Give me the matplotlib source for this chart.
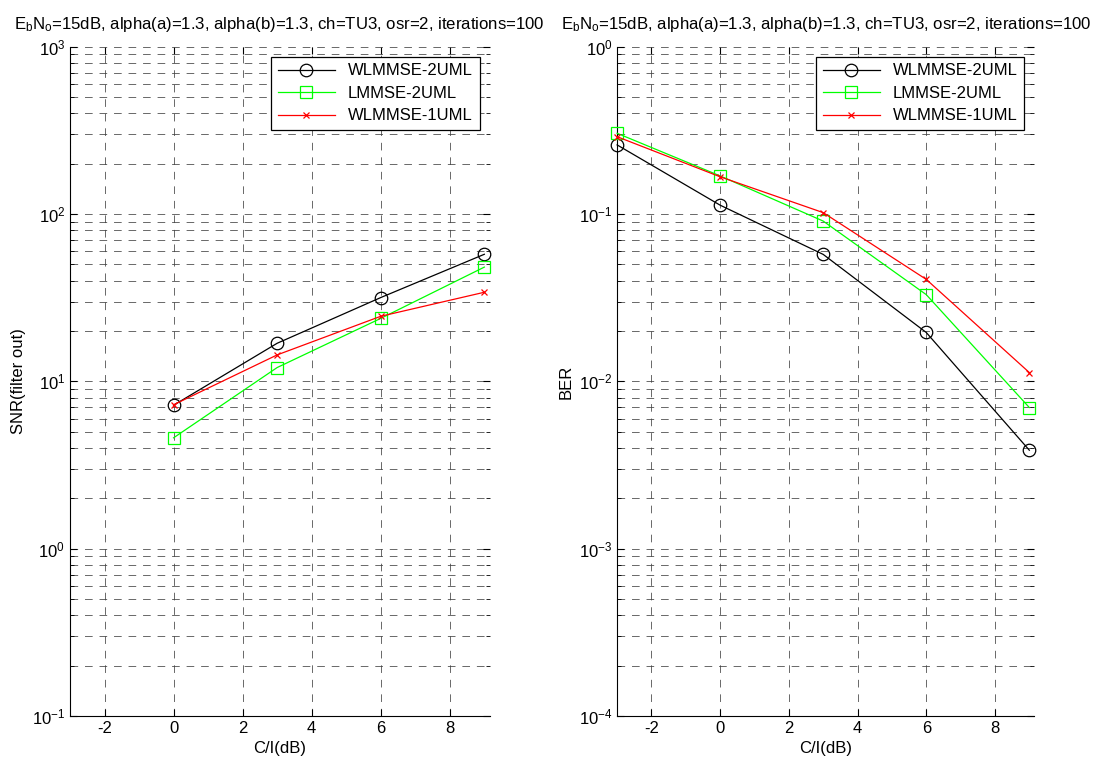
import numpy as np
import matplotlib.pyplot as plt

plt.rcParams['font.family'] = ['Liberation Sans', 'DejaVu Sans']
plt.rcParams['mathtext.fontset'] = 'custom'
plt.rcParams['mathtext.rm'] = 'Liberation Sans'
plt.rcParams['mathtext.it'] = 'Liberation Sans'
plt.rcParams['axes.unicode_minus'] = False

# Données
ci_snr = [0, 3, 6, 9]
snr_wlmmse2 = [7.2, 16.9, 31.7, 57.5]
snr_lmmse2 = [4.6, 12.1, 23.8, 48.2]
snr_wlmmse1 = [7.25, 14.4, 24.5, 34.1]

ci_ber = [-3, 0, 3, 6, 9]
ber_wlmmse2 = [0.259, 0.113, 0.0574, 0.0196, 0.00388]
ber_lmmse2 = [0.304, 0.169, 0.0908, 0.033, 0.00698]
ber_wlmmse1 = [0.290, 0.167, 0.102, 0.0407, 0.0113]

labels = ['WLMMSE-2UML', 'LMMSE-2UML', 'WLMMSE-1UML']
titre = r'$\mathregular{E_bN_o}$=15dB, alpha(a)=1.3, alpha(b)=1.3, ch=TU3, osr=2, iterations=100'

fig = plt.figure(figsize=(11.04, 7.64), dpi=100)
ax1 = fig.add_axes([0.0634, 0.0628, 0.380, 0.876])
ax2 = fig.add_axes([0.559, 0.0628, 0.378, 0.876])


def tracer(ax, x, series):
    styles = [dict(color='black', marker='o', ms=9, mfc='none'),
              dict(color=(0, 1, 0), marker='s', ms=9, mfc='none'),
              dict(color='red', marker='x', ms=5)]
    for y, lab, st in zip(series, labels, styles):
        ax.plot(x, y, lw=0.9, mew=0.9, label=lab, clip_on=False, zorder=3, **st)
    ax.set_yscale('log')
    ax.set_xlim(-3, 9.15)
    ax.set_xticks([-2, 0, 2, 4, 6, 8])
    ax.grid(True, which='both', color='#404040', linestyle=(0, (10, 9)), linewidth=0.55)
    ax.tick_params(which='both', direction='in', labelsize=12, top=True, right=True)
    ax.tick_params(which='major', length=5)
    ax.tick_params(which='minor', length=3)
    ax.spines['top'].set_visible(False)
    ax.spines['right'].set_visible(False)
    ax.set_xlabel('C/I(dB)', fontsize=12)
    ax.set_title(titre, fontsize=12.1, pad=13)
    leg = ax.legend(loc='upper right', fontsize=12, fancybox=False, framealpha=1,
                    edgecolor='black', handlelength=3.4, borderaxespad=0.6,
                    labelspacing=0.45)
    leg.get_frame().set_linewidth(0.9)


tracer(ax1, ci_snr, [snr_wlmmse2, snr_lmmse2, snr_wlmmse1])
ax1.set_ylim(0.1, 1000)
ax1.set_ylabel('SNR(filter out)', fontsize=12)

tracer(ax2, ci_ber, [ber_wlmmse2, ber_lmmse2, ber_wlmmse1])
ax2.set_ylim(1e-4, 1)
ax2.set_ylabel('BER', fontsize=12)

fig.savefig('out.png', dpi=100)
